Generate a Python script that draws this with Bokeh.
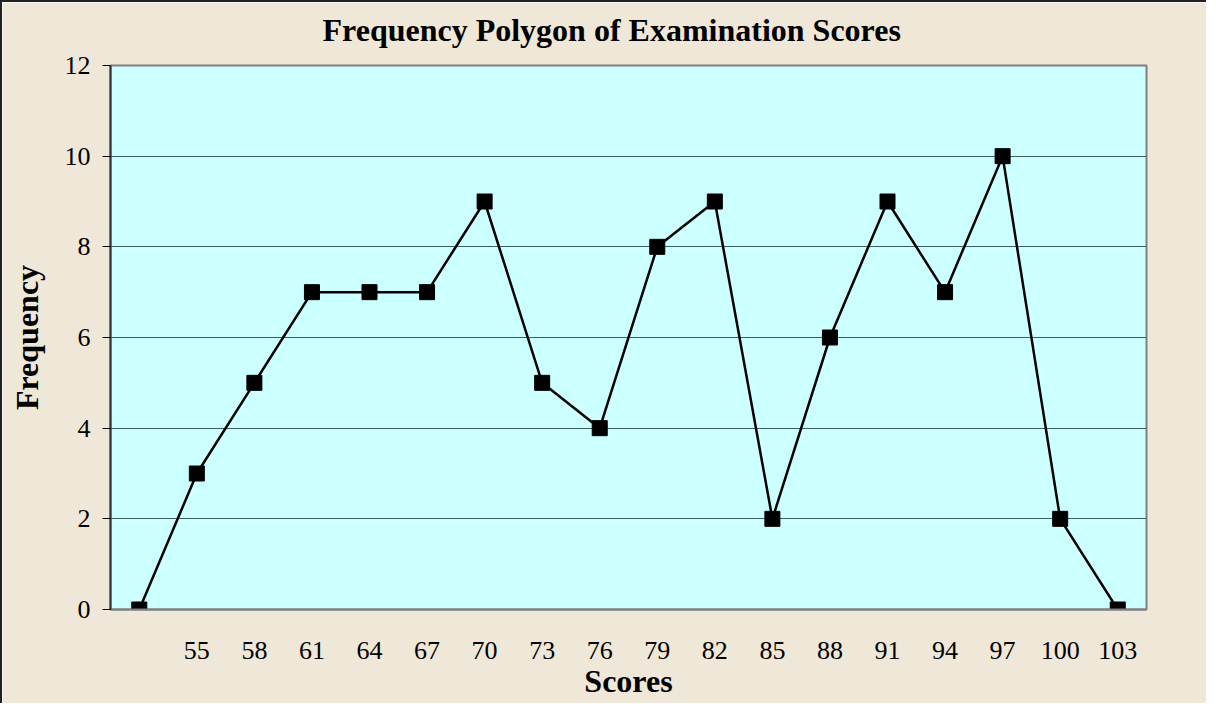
from bokeh.plotting import figure
from bokeh.models import FixedTicker, Title
from bokeh.embed import file_html
from bokeh.resources import INLINE

# Data
scores = ["", "55", "58", "61", "64", "67", "70", "73", "76", "79", "82", "85",
          "88", "91", "94", "97", "100", "103"]
frequency = [0, 3, 5, 7, 7, 7, 9, 5, 4, 8, 9, 2, 6, 9, 7, 10, 2, 0]
y_ticks = [0, 2, 4, 6, 8, 10, 12]
title_text = "Frequency Polygon of Examination Scores"

FONT = "Liberation Serif"

p = figure(x_range=scores, y_range=(0, 12), width=1206, height=703,
           output_backend="svg", toolbar_location=None,
           min_border_left=108, min_border_top=63, min_border_right=62,
           min_border_bottom=96)

p.styles = {"border-left": "2px solid #222222", "border-top": "2px solid #222222"}

p.background_fill_color = "#CCFFFF"
p.border_fill_color = "#EFE7D7"
p.outline_line_color = "#808080"
p.outline_line_width = 2

# spacer between frame and title, then the title itself
p.add_layout(Title(text=" ", text_font_size="14px", standoff=0), "above")
p.add_layout(Title(text=title_text, text_font=FONT, text_font_size="32px",
                   text_font_style="bold", text_color="black", align="left",
                   offset=212, standoff=0), "above")

p.line(x=scores, y=frequency, line_color="black", line_width=2.5)
p.scatter(x=scores, y=frequency, marker="square", size=15, fill_color="black",
          line_color="black")

# Y axis
p.yaxis.ticker = FixedTicker(ticks=y_ticks)
p.yaxis.minor_tick_line_color = None
p.yaxis.major_tick_in = 0
p.yaxis.major_tick_out = 8
p.yaxis.major_tick_line_color = "black"
p.yaxis.axis_line_color = "#333333"
p.yaxis.axis_line_width = 2
p.yaxis.major_label_standoff = 12
p.yaxis.major_label_text_font = FONT
p.yaxis.major_label_text_font_size = "26px"
p.yaxis.major_label_text_color = "black"
p.yaxis.axis_label = "Frequency"
p.yaxis.axis_label_text_font = FONT
p.yaxis.axis_label_text_font_size = "32px"
p.yaxis.axis_label_text_font_style = "bold"
p.yaxis.axis_label_text_color = "black"
p.yaxis.axis_label_standoff = 17

# X axis
p.xaxis.major_tick_line_color = None
p.xaxis.minor_tick_line_color = None
p.xaxis.major_tick_out = 0
p.xaxis.major_tick_in = 0
p.xaxis.axis_line_color = "#808080"
p.xaxis.axis_line_width = 2
p.xaxis.major_label_standoff = 32
p.xaxis.major_label_text_font = FONT
p.xaxis.major_label_text_font_size = "26px"
p.xaxis.major_label_text_color = "black"
p.xaxis.axis_label = "Scores"
p.xaxis.axis_label_text_font = FONT
p.xaxis.axis_label_text_font_size = "32px"
p.xaxis.axis_label_text_font_style = "bold"
p.xaxis.axis_label_text_color = "black"
p.xaxis.axis_label_standoff = 1

# Grid
p.xgrid.grid_line_color = None
p.ygrid.grid_line_color = "#3F5F5F"
p.ygrid.grid_line_width = 1

p.x_range.range_padding = 0

open("out.html", "w").write(file_html(p, INLINE))
